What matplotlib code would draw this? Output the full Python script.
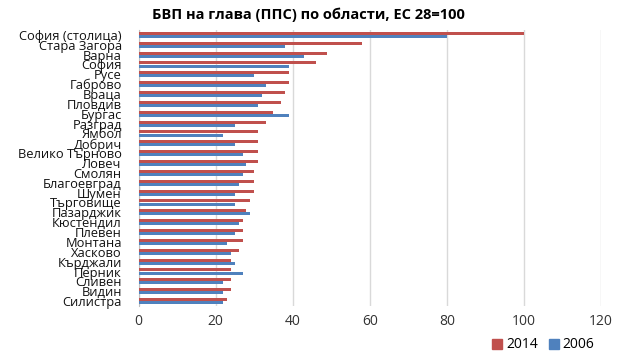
import matplotlib
matplotlib.use("Agg")
import matplotlib.pyplot as plt
import numpy as np
from matplotlib.patches import Patch

regions = ["София (столица)", "Стара Загора", "Варна", "София", "Русе", "Габрово",
           "Враца", "Пловдив", "Бургас", "Разград", "Ямбол", "Добрич",
           "Велико Търново", "Ловеч", "Смолян", "Благоевград", "Шумен", "Търговище",
           "Пазарджик", "Кюстендил", "Плевен", "Монтана", "Хасково", "Кърджали",
           "Перник", "Сливен", "Видин", "Силистра"]
v2014 = [100, 58, 49, 46, 39, 39, 38, 37, 35, 33, 31, 31, 31, 31, 30, 30, 30, 29,
         28, 27, 27, 27, 26, 24, 24, 24, 24, 23]
v2006 = [80, 38, 43, 39, 30, 33, 32, 31, 39, 25, 22, 25, 27, 28, 27, 26, 25, 25,
         29, 26, 25, 23, 24, 25, 27, 22, 22, 22]
xticks = [0, 20, 40, 60, 80, 100, 120]
title = "БВП на глава (ППС) по области, ЕС 28=100"

red = "#C0504D"
blue = "#4F81BD"

plt.rcParams['font.family'] = ['Open Sans', 'DejaVu Sans']

fig = plt.figure(figsize=(6.3, 3.61), dpi=100)
ax = fig.add_axes([138.5/630, 1-306/361, (601-138.5)/630, (306-30)/361])

y = np.arange(len(regions))
h = 0.3
ax.barh(y - 0.16, v2014, height=h, color=red, zorder=3)
ax.barh(y + 0.16, v2006, height=h, color=blue, zorder=3)

ax.set_ylim(len(regions) - 0.5, -0.5)
ax.set_xlim(0, 120)
ax.set_xticks(xticks)
ax.set_xticklabels([str(t) for t in xticks], fontsize=10, color="#333333")
ax.set_yticks(y)
ax.set_yticklabels(regions, fontsize=9.3, color="#111111")
ax.tick_params(axis='both', length=0)
ax.tick_params(axis='x', pad=6)
ax.tick_params(axis='y', pad=12)

ax.grid(axis='x', color="#D9D9D9", linewidth=1, zorder=0)
for s in ['top', 'right', 'bottom']:
    ax.spines[s].set_visible(False)
ax.spines['left'].set_color("#BFBFBF")

fig.text(0.49, 1-15/361, title, ha='center', va='center', fontsize=10.5, fontweight='bold')

handles = [Patch(color=red, label="2014"), Patch(color=blue, label="2006")]
fig.legend(handles=handles, loc='center right', bbox_to_anchor=(600/630, 1-345/361),
           ncol=2, frameon=False, fontsize=10, handlelength=0.7, handleheight=0.7,
           handletextpad=0.3, columnspacing=0.8, borderaxespad=0)

fig.savefig("out.png", dpi=100)
